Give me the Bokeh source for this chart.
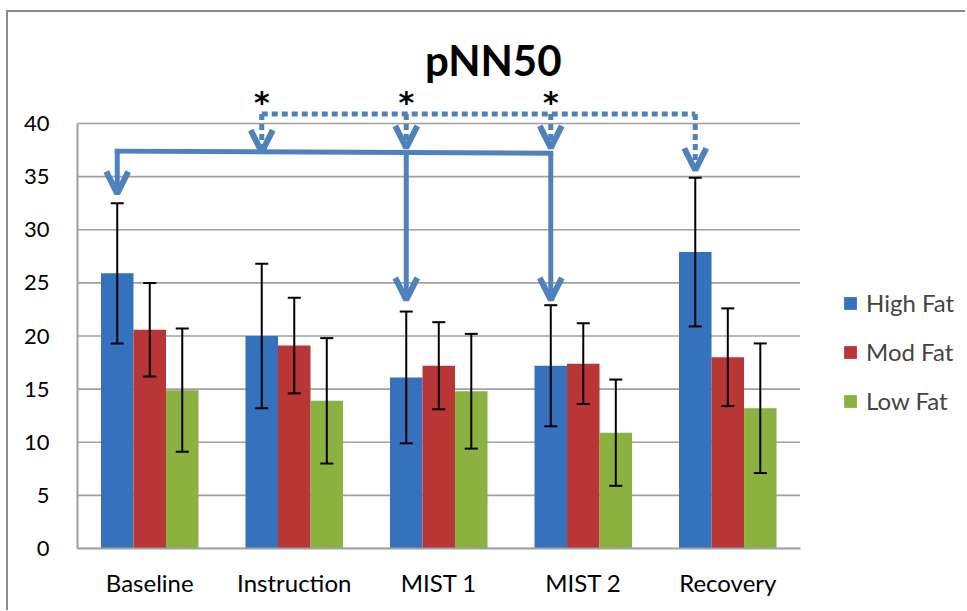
from bokeh.plotting import figure
from bokeh.models import (ColumnDataSource, Range1d, FixedTicker, Whisker,
                          TeeHead, Arrow, OpenHead, Legend, LegendItem, Label)
from bokeh.transform import dodge
from bokeh.embed import file_html
from bokeh.resources import INLINE
from bokeh.core.properties import value

# ---------------- data ----------------
categories = ["Baseline", "Instruction", "MIST 1", "MIST 2", "Recovery"]
series_names = ["High Fat", "Mod Fat", "Low Fat"]
high_fat = [25.9, 20.0, 16.1, 17.2, 27.9]
high_sd = [6.6, 6.8, 6.2, 5.7, 7.0]
mod_fat = [20.6, 19.1, 17.2, 17.4, 18.0]
mod_sd = [4.4, 4.5, 4.1, 3.8, 4.6]
low_fat = [14.9, 13.9, 14.8, 10.9, 13.2]
low_sd = [5.8, 5.9, 5.4, 5.0, 6.1]
y_ticks = [0, 5, 10, 15, 20, 25, 30, 35, 40]

# significance annotations (values in y units)
solid_targets = ["Baseline", "MIST 1", "MIST 2"]
solid_bracket_y = [37.4, 37.3, 37.2]
solid_tip_y = [33.4, 23.4, 23.4]
dotted_targets = ["Instruction", "MIST 1", "MIST 2", "Recovery"]
dotted_bracket_y = 40.9
dotted_tip_y = [37.3, 37.7, 37.7, 35.6]
star_targets = ["Instruction", "MIST 1", "MIST 2"]
star_y = 42.0
title_text = "pNN50"

# ---------------- style ----------------
FONT = "Lato"
colors = ["#3571BD", "#B93636", "#8BB141"]
ARROW_BLUE = "#4F81BD"
GRID = "#A0A0A0"
bar_w = 0.225
offsets = [-bar_w, 0.0, bar_w]
n_cat = len(categories)
x_pos = [i + 0.5 for i in range(n_cat)]

p = figure(x_range=Range1d(0, 6.145), y_range=Range1d(0, 48),
           frame_width=888, frame_height=510, output_backend="svg", toolbar_location=None,
           min_border_left=69, min_border_right=0, min_border_top=26, min_border_bottom=62)
p.outline_line_color = None
p.background_fill_color = "white"
p.border_fill_color = "white"
p.styles = {"border-top": "2px solid #8A8A8A", "border-left": "2px solid #8A8A8A",
            "margin-left": "6px", "margin-top": "10px"}

src = ColumnDataSource(dict(x=x_pos,
                            high=high_fat, mod=mod_fat, low=low_fat,
                            high_up=[v + s for v, s in zip(high_fat, high_sd)],
                            high_lo=[v - s for v, s in zip(high_fat, high_sd)],
                            mod_up=[v + s for v, s in zip(mod_fat, mod_sd)],
                            mod_lo=[v - s for v, s in zip(mod_fat, mod_sd)],
                            low_up=[v + s for v, s in zip(low_fat, low_sd)],
                            low_lo=[v - s for v, s in zip(low_fat, low_sd)]))

# horizontal grid lines across the category area only
p.segment(x0=[0] * len(y_ticks), x1=[n_cat] * len(y_ticks), y0=y_ticks, y1=y_ticks,
          line_color=GRID, line_width=1.6)

keys = ["high", "mod", "low"]
bar_renderers = []
for k, off, col in zip(keys, offsets, colors):
    r = p.vbar(x=dodge("x", off), top=k, width=bar_w, source=src,
               fill_color=col, line_color=None)
    bar_renderers.append(r)

for k, off in zip(keys, offsets):
    w = Whisker(source=src, base=dodge("x", off), upper=k + "_up", lower=k + "_lo",
                line_color="black", line_width=2, level="annotation",
                upper_head=TeeHead(size=13, line_width=2, line_color="black"),
                lower_head=TeeHead(size=13, line_width=2, line_color="black"))
    p.add_layout(w)

# axes
p.yaxis.ticker = FixedTicker(ticks=y_ticks)
p.yaxis.bounds = (0, 40)
p.yaxis.axis_line_color = GRID
p.yaxis.axis_line_width = 2
p.yaxis.major_tick_line_color = None
p.yaxis.minor_tick_line_color = None
p.yaxis.major_label_standoff = 22
p.yaxis.major_label_text_font = FONT
p.yaxis.major_label_text_font_size = "22px"
p.yaxis.major_label_text_color = "black"

p.xaxis.ticker = FixedTicker(ticks=x_pos)
p.xaxis.major_label_overrides = {x: c for x, c in zip(x_pos, categories)}
p.xaxis.bounds = (0, n_cat)
p.xaxis.axis_line_color = GRID
p.xaxis.axis_line_width = 2
p.xaxis.major_tick_line_color = None
p.xaxis.minor_tick_line_color = None
p.xaxis.major_label_standoff = 13
p.xaxis.major_label_text_font = FONT
p.xaxis.major_label_text_font_size = "24px"
p.xaxis.major_label_text_color = "black"

p.xgrid.grid_line_color = None
p.ygrid.grid_line_color = None

# significance annotations
def hx(cat):
    return x_pos[categories.index(cat)] - bar_w

sx = [hx(c) for c in solid_targets]
p.line(x=[sx[0], sx[-1]], y=[solid_bracket_y[0], solid_bracket_y[-1]],
       line_color=ARROW_BLUE, line_width=5, line_cap="square")
for x, y0, y1 in zip(sx, solid_bracket_y, solid_tip_y):
    p.add_layout(Arrow(x_start=x, y_start=y0, x_end=x, y_end=y1, line_color=ARROW_BLUE, line_width=5,
                       end=OpenHead(size=22, line_width=6, line_color=ARROW_BLUE)))

dx = [hx(c) for c in dotted_targets]
p.line(x=[dx[0], dx[-1]], y=[dotted_bracket_y, dotted_bracket_y],
       line_color=ARROW_BLUE, line_width=5, line_dash="6 4")
for x, y1 in zip(dx, dotted_tip_y):
    p.add_layout(Arrow(x_start=x, y_start=dotted_bracket_y, x_end=x, y_end=y1,
                       line_color=ARROW_BLUE, line_width=5, line_dash="6 4",
                       end=OpenHead(size=22, line_width=6, line_color=ARROW_BLUE)))

p.text(x=[hx(c) for c in star_targets], y=[star_y] * len(star_targets), text=["*"] * len(star_targets),
       text_font=value("DejaVu Sans"), text_font_size="30px", text_font_style="bold",
       text_align="center", text_baseline="middle", text_color="black")

p.add_layout(Label(x=2.877, y=45.95, text=title_text, text_font=FONT, text_font_size="42px",
                   text_font_style="bold", text_align="center", text_baseline="middle",
                   text_color="black"))

legend = Legend(items=[LegendItem(label=n, renderers=[r]) for n, r in zip(series_names, bar_renderers)],
                location=(765, 133), orientation="vertical")
legend.label_text_font = FONT
legend.label_text_font_size = "24px"
legend.glyph_width = 16
legend.glyph_height = 16
legend.spacing = 20
legend.padding = 0
legend.margin = 0
legend.label_standoff = 8
legend.border_line_color = None
legend.background_fill_alpha = 0
p.add_layout(legend)

open("out.html", "w").write(file_html(p, INLINE))
